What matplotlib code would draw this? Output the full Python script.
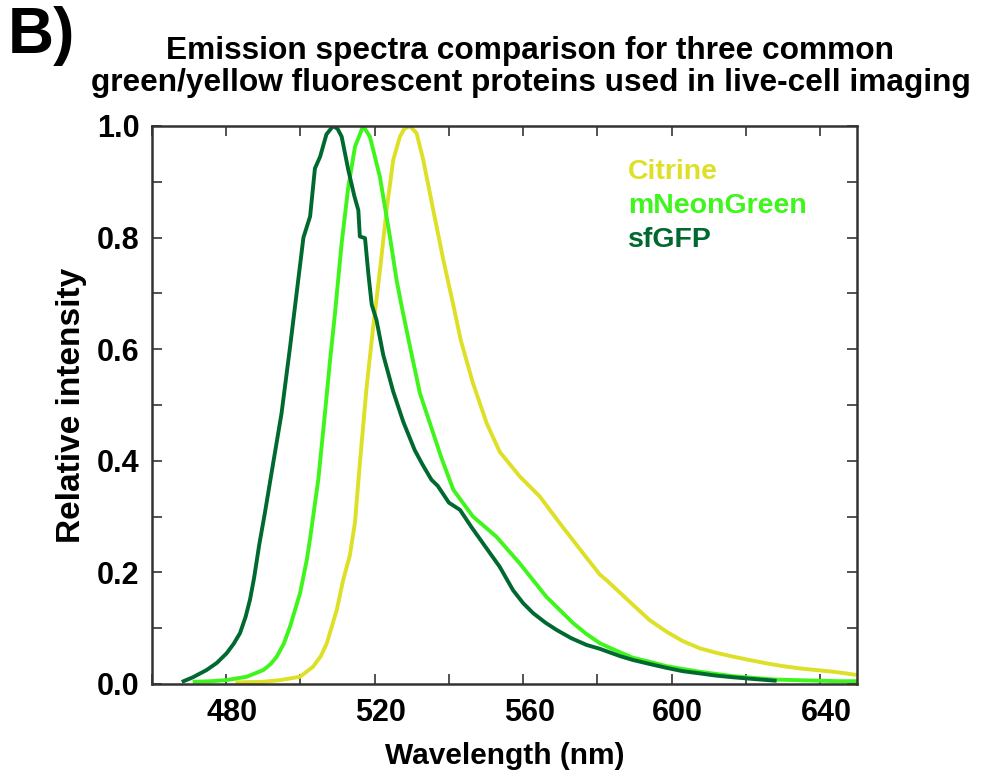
import numpy as np
import matplotlib
matplotlib.use("Agg")
import matplotlib.pyplot as plt
import matplotlib.transforms as mtransforms
from matplotlib.ticker import MultipleLocator

plt.rcParams['font.family'] = ['Liberation Sans', 'DejaVu Sans']
plt.rcParams['font.weight'] = 'bold'

# emission spectra (wavelength nm, relative intensity)
sfgfp_nm = [468.5, 471, 474.7, 477.5, 480.1, 482, 483.7, 485.2, 486.4, 487.5,
            488.9, 490.4, 492.2, 494.9, 497.2, 499.4, 500.8, 502.6, 503.9, 505.3,
            507, 508.8, 510, 511.1, 512.9, 514.5, 515.6, 516.0, 517.4, 518.3,
            519.2, 520.5, 522.3, 525.0, 527.7, 530.8, 533, 535.3, 537, 540,
            543.0, 546, 549.2, 553.7, 557.3, 560, 562.7, 566, 569.0, 573,
            577.1, 580.7, 586.1, 589.6, 594, 598.6, 603, 607.6, 612, 616.6,
            622, 627.8]
sfgfp_val = [0.005, 0.012, 0.025, 0.038, 0.055, 0.072, 0.091, 0.120, 0.151, 0.190,
             0.250, 0.306, 0.378, 0.485, 0.604, 0.724, 0.800, 0.838, 0.924, 0.945,
             0.985, 1.0, 0.995, 0.981, 0.921, 0.875, 0.849, 0.802, 0.799, 0.735,
             0.680, 0.652, 0.590, 0.524, 0.470, 0.419, 0.392, 0.366, 0.355, 0.325,
             0.312, 0.282, 0.252, 0.210, 0.168, 0.145, 0.127, 0.110, 0.097, 0.082,
             0.070, 0.063, 0.050, 0.043, 0.036, 0.029, 0.023, 0.019, 0.015, 0.012,
             0.009, 0.006]

mng_nm = [471.5, 476, 480.1, 485.5, 490.0, 492, 493.6, 495.5, 497.2, 499.9,
          501.7, 502.6, 504.8, 506.6, 507.9, 509.3, 511.1, 512.9, 514.7, 516.9,
          518.7, 521.4, 524.1, 525.9, 527.3, 529.5, 532.2, 535.8, 538, 541.2,
          546.5, 552.8, 559.1, 566.3, 573.5, 577, 580.7, 585, 589.6, 594,
          598.6, 603, 607.6, 612, 616.6, 622, 627.8, 633, 639.0, 645, 649.8]
mng_val = [0.004, 0.005, 0.007, 0.013, 0.025, 0.036, 0.049, 0.072, 0.103, 0.163,
           0.222, 0.261, 0.366, 0.485, 0.575, 0.664, 0.790, 0.891, 0.963, 1.0,
           0.981, 0.909, 0.802, 0.724, 0.676, 0.605, 0.521, 0.449, 0.405, 0.348,
           0.300, 0.264, 0.216, 0.156, 0.109, 0.090, 0.073, 0.060, 0.047, 0.040,
           0.032, 0.027, 0.022, 0.018, 0.014, 0.011, 0.008, 0.007, 0.006, 0.005, 0.005]

citrine_nm = [483, 490, 494.5, 499.9, 503.4, 505.5, 507.1, 509.8, 511.5, 513.3,
              514.7, 516.0, 517.8, 519.6, 521.4, 523.2, 525.0, 526.8, 528, 529.5,
              531.3, 533.1, 535.8, 538.5, 541.2, 543.2, 546.5, 550.2, 553.7, 559.1,
              564.5, 569.9, 576.2, 580.7, 582.5, 589.6, 594, 598.6, 603, 607.6,
              612, 616.6, 621, 625.6, 630, 634.5, 639, 643.5, 647, 650]
citrine_val = [0.003, 0.004, 0.007, 0.013, 0.031, 0.050, 0.073, 0.133, 0.186, 0.230,
               0.290, 0.395, 0.530, 0.640, 0.740, 0.849, 0.939, 0.981, 0.995, 1.0,
               0.987, 0.939, 0.849, 0.760, 0.679, 0.616, 0.539, 0.467, 0.416, 0.372,
               0.336, 0.288, 0.234, 0.196, 0.186, 0.142, 0.115, 0.094, 0.077, 0.064,
               0.056, 0.049, 0.043, 0.037, 0.032, 0.028, 0.025, 0.022, 0.019, 0.016]

names = ['Citrine', 'mNeonGreen', 'sfGFP']
colors = ['#dde026', '#3ff51c', '#00692f']

fig = plt.figure(figsize=(9.84, 7.72), dpi=100)
ax = fig.add_axes([0.1545, 0.114, 0.7165, 0.7228])

ax.plot(citrine_nm, citrine_val, color=colors[0], lw=2.8, solid_joinstyle='round')
ax.plot(mng_nm, mng_val, color=colors[1], lw=2.8, solid_joinstyle='round')
ax.plot(sfgfp_nm, sfgfp_val, color=colors[2], lw=2.8, solid_joinstyle='round')

ax.set_xlim(460, 650)
ax.set_ylim(0, 1.0)
ax.xaxis.set_minor_locator(MultipleLocator(20))
ax.yaxis.set_major_locator(MultipleLocator(0.2))
ax.yaxis.set_minor_locator(MultipleLocator(0.1))
ax.set_xticks([480, 520, 560, 600, 640])
ax.tick_params(which='both', direction='in', top=True, right=True,
               length=7, width=1.3, color='#444444')
ax.tick_params(which='major', labelsize=22)
ax.tick_params(axis='y', which='major', pad=9)
ax.tick_params(axis='x', which='major', pad=10)
shift = mtransforms.ScaledTranslation(0.06, 0, fig.dpi_scale_trans)
for lab in ax.get_xticklabels():
    lab.set_transform(lab.get_transform() + shift)
for lab in ax.get_xticklabels() + ax.get_yticklabels():
    lab.set_fontweight('bold')
for sp in ax.spines.values():
    sp.set_linewidth(1.8)
    sp.set_color('#333333')

ax.set_xlabel('Wavelength (nm)', fontsize=21.5, fontweight='bold', labelpad=10)
ax.set_ylabel('Relative intensity', fontsize=24, fontweight='bold', labelpad=7)

# legend as coloured text labels
for i, (nm, c) in enumerate(zip(names, colors)):
    ax.text(0.675, 0.918 - i * 0.0615, nm, color=c, fontsize=20.5,
            fontweight='bold', transform=ax.transAxes, va='center', ha='left')

fig.text(0.539, 0.913, 'Emission spectra comparison for three common\n'
         'green/yellow fluorescent proteins used in live-cell imaging',
         ha='center', va='center', fontsize=22.8, fontweight='bold',
         linespacing=1.1)
fig.text(0.008, 0.953, 'B)', fontsize=46, fontweight='bold', va='center')

fig.savefig('out.png', dpi=100)
